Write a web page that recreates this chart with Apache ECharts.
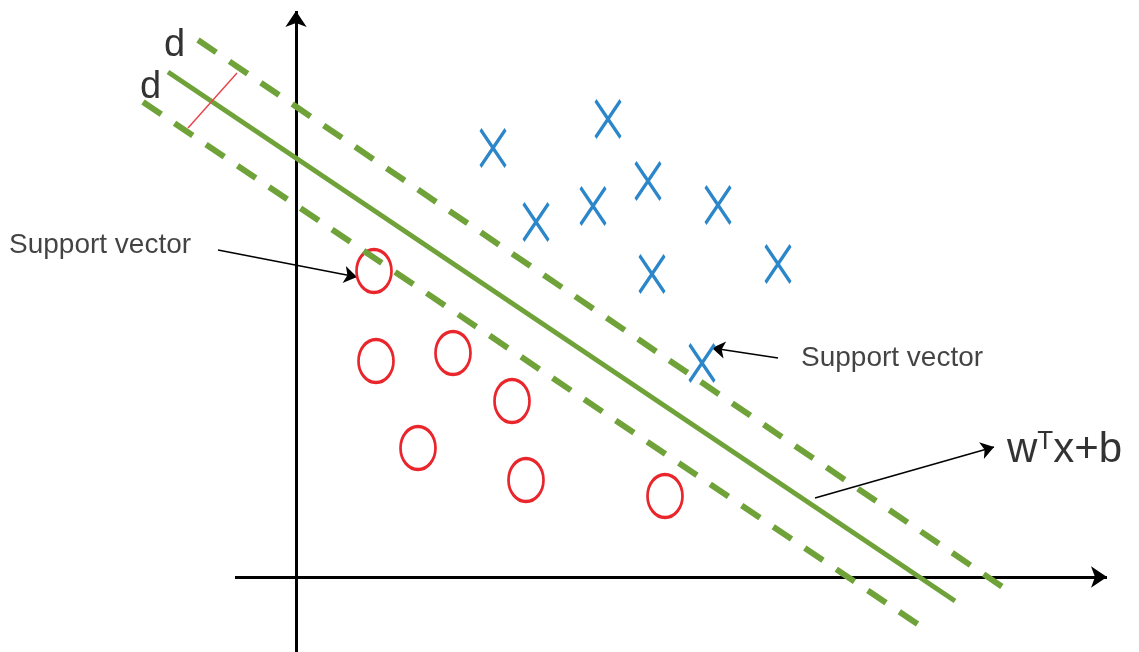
<!DOCTYPE html>
<html lang="en">
<head>
    <meta charset="UTF-8">
    <script src="https://cdn.jsdelivr.net/npm/echarts@6/dist/echarts.min.js"></script>
    <title>SVM</title>
</head>
<body style="margin:0;background:#fff;">
<div id="main" style="width: 1139px;height:652px;"></div>
<script type="text/javascript">
    // coordinates are in picture units: x to the right, y downwards
    var circles = [[374, 271], [376, 361], [453, 353], [512, 401], [418, 448], [526, 480], [665, 496]];
    var crosses = [[493, 148], [608, 119], [648, 181], [593, 206], [536, 222], [718, 205], [652, 274], [778, 264], [702, 363]];

    var separator = [[168, 72], [955, 601]];
    var upperMargin = [[198, 40], [1007, 590]];
    var lowerMargin = [[143, 102], [922, 627]];
    var marginGap = [[237, 73], [188, 128]];

    var xAxisLine = [[235, 577], [1107, 577]];
    var yAxisLine = [[296, 652], [296, 11]];

    var pointers = [
        [[218, 250], [357, 277]],
        [[778, 358], [712, 348]],
        [[815, 498], [994, 447]]
    ];
    var labels = [
        {name: 'Support vector', value: [9, 245]},
        {name: 'Support vector', value: [801, 358]},
        {name: 'wx', value: [1007, 450]},
        {name: 'd', value: [164, 46]},
        {name: 'd', value: [140, 88]}
    ];

    var green = '#70a23a';
    var myChart = echarts.init(document.getElementById('main'));

    var option = {
        animation: false,
        grid: {left: 0, right: 0, top: 0, bottom: 0},
        xAxis: {type: 'value', min: 0, max: 1139, show: false},
        yAxis: {type: 'value', min: 0, max: 652, inverse: true, show: false},
        series: [
            {
                type: 'lines', coordinateSystem: 'cartesian2d',
                symbol: ['none', 'arrow'], symbolSize: 16,
                lineStyle: {color: '#000', width: 3, opacity: 1},
                data: [{coords: xAxisLine}, {coords: yAxisLine}]
            },
            {
                type: 'line', data: separator, showSymbol: false,
                lineStyle: {color: green, width: 5}
            },
            {
                type: 'line', data: upperMargin, showSymbol: false,
                lineStyle: {color: green, width: 6, type: [22, 16]}
            },
            {
                type: 'line', data: lowerMargin, showSymbol: false,
                lineStyle: {color: green, width: 6, type: [22, 16]}
            },
            {
                type: 'line', data: marginGap, showSymbol: false,
                lineStyle: {color: '#e8474d', width: 1.5}
            },
            {
                type: 'scatter', data: circles,
                symbol: 'circle', symbolSize: [35, 43],
                itemStyle: {color: 'rgba(0,0,0,0)', borderColor: '#e8262c', borderWidth: 3, opacity: 1}
            },
            {
                type: 'scatter', data: crosses,
                symbol: 'path://M0,0L26,38M26,0L0,38', symbolSize: [25, 37],
                itemStyle: {color: 'rgba(0,0,0,0)', borderColor: '#2b87c9', borderWidth: 3.5, opacity: 1}
            },
            {
                type: 'lines', coordinateSystem: 'cartesian2d',
                symbol: ['none', 'arrow'], symbolSize: 13,
                lineStyle: {color: '#000', width: 1.5, opacity: 1},
                data: pointers.map(function (p) { return {coords: p}; })
            },
            {
                type: 'scatter', data: labels, symbolSize: 0,
                label: {
                    show: true, position: 'inside', align: 'left', verticalAlign: 'middle',
                    fontFamily: 'Liberation Sans', color: '#000',
                    formatter: function (p) {
                        if (p.name === 'wx') return '{a|w}{t|T}{a|x+b}';
                        if (p.name === 'd') return '{d|d}';
                        return '{s|' + p.name + '}';
                    },
                    rich: {
                        s: {fontSize: 28, fontFamily: 'Liberation Sans', color: '#141414'},
                        a: {fontSize: 42, fontFamily: 'Liberation Sans', color: '#000'},
                        t: {fontSize: 26, fontFamily: 'Liberation Sans', color: '#000', verticalAlign: 'top', padding: [0, 0, 16, 0]},
                        d: {fontSize: 38, fontFamily: 'Liberation Sans', color: '#000'}
                    }
                }
            }
        ]
    };

    myChart.setOption(option);
</script>
</body>
</html>
